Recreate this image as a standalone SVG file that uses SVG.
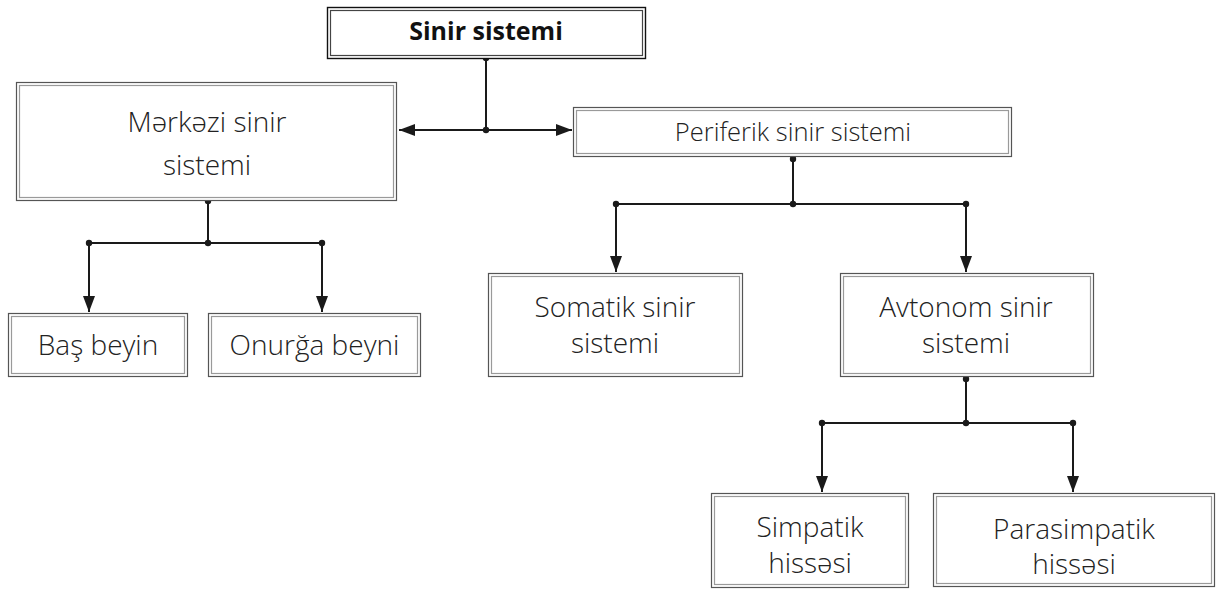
<svg xmlns="http://www.w3.org/2000/svg" width="1217" height="590" viewBox="0 0 1217 590">
<style>
.o{fill:#fff;stroke:#555;stroke-width:1.2}
.i{fill:none;stroke:#9a9a9a;stroke-width:1.2}
.ot{fill:#fff;stroke:#111;stroke-width:1.4}
.it{fill:none;stroke:#444;stroke-width:1.2}
text{font-family:"Open Sans","Noto Sans","DejaVu Sans",sans-serif;font-weight:300;fill:#222;text-anchor:middle;font-size:28px}
.b{font-weight:700;font-size:25px;fill:#111}
.c line,.c path{stroke:#1a1a1a;stroke-width:2;fill:none}
.c circle{fill:#1a1a1a}
</style>
<defs>
<marker id="ah" markerUnits="userSpaceOnUse" markerWidth="17" markerHeight="13" refX="16" refY="6" orient="auto">
<path d="M0,0 L16,6 L0,12 z" fill="#1a1a1a"/>
</marker>
</defs>
<g id="connectors" class="c">
<line x1="486" y1="58" x2="486" y2="130"/>
<line x1="486" y1="130" x2="399" y2="130" marker-end="url(#ah)"/>
<line x1="486" y1="130" x2="572" y2="130" marker-end="url(#ah)"/>
<circle cx="486" cy="58" r="3.2"/><circle cx="486" cy="130" r="3.2"/>
<line x1="208" y1="201" x2="208" y2="243"/>
<line x1="89" y1="243" x2="322" y2="243"/>
<line x1="89" y1="243" x2="89" y2="312" marker-end="url(#ah)"/>
<line x1="322" y1="243" x2="322" y2="312" marker-end="url(#ah)"/>
<circle cx="208" cy="201" r="3.2"/><circle cx="208" cy="243" r="3.2"/><circle cx="89" cy="243" r="3.2"/><circle cx="322" cy="243" r="3.2"/>
<line x1="793" y1="159" x2="793" y2="204"/>
<line x1="616" y1="204" x2="966" y2="204"/>
<line x1="616" y1="204" x2="616" y2="272" marker-end="url(#ah)"/>
<line x1="966" y1="204" x2="966" y2="272" marker-end="url(#ah)"/>
<circle cx="793" cy="159" r="3.2"/><circle cx="793" cy="204" r="3.2"/><circle cx="616" cy="204" r="3.2"/><circle cx="966" cy="204" r="3.2"/>
<line x1="966" y1="379" x2="966" y2="423"/>
<line x1="822" y1="423" x2="1073" y2="423"/>
<line x1="822" y1="423" x2="822" y2="492" marker-end="url(#ah)"/>
<line x1="1073" y1="423" x2="1073" y2="492" marker-end="url(#ah)"/>
<circle cx="966" cy="379" r="3.2"/><circle cx="966" cy="423" r="3.2"/><circle cx="822" cy="423" r="3.2"/><circle cx="1073" cy="423" r="3.2"/>
</g>
<g id="sinir-sistemi">
<rect class="ot" x="327.5" y="7.5" width="318" height="51"/>
<rect class="it" x="330.5" y="10.5" width="312" height="45"/>
<text class="b" x="486" y="40">Sinir sistemi</text>
</g>
<g id="merkezi">
<rect class="o" x="16.5" y="82.5" width="380" height="118"/>
<rect class="i" x="19.5" y="85.5" width="374" height="112"/>
<text x="207" y="132">Mərkəzi sinir</text>
<text x="207" y="175">sistemi</text>
</g>
<g id="periferik">
<rect class="o" x="573.5" y="107.5" width="438" height="49"/>
<rect class="i" x="576.5" y="110.5" width="432" height="43"/>
<text x="793" y="141" style="font-size:25.5px">Periferik sinir sistemi</text>
</g>
<g id="bas-beyin">
<rect class="o" x="8.5" y="313.5" width="179" height="63"/>
<rect class="i" x="11.5" y="316.5" width="173" height="57"/>
<text x="98" y="355">Baş beyin</text>
</g>
<g id="onurga-beyni">
<rect class="o" x="208.5" y="313.5" width="212" height="63"/>
<rect class="i" x="211.5" y="316.5" width="206" height="57"/>
<text x="314.5" y="355">Onurğa beyni</text>
</g>
<g id="somatik">
<rect class="o" x="488.5" y="273.5" width="254" height="103"/>
<rect class="i" x="491.5" y="276.5" width="248" height="97"/>
<text x="615" y="317">Somatik sinir</text>
<text x="615" y="353">sistemi</text>
</g>
<g id="avtonom">
<rect class="o" x="840.5" y="273.5" width="253" height="103"/>
<rect class="i" x="843.5" y="276.5" width="247" height="97"/>
<text x="966" y="317">Avtonom sinir</text>
<text x="966" y="353">sistemi</text>
</g>
<g id="simpatik">
<rect class="o" x="711.5" y="493.5" width="197" height="94"/>
<rect class="i" x="714.5" y="496.5" width="191" height="88"/>
<text x="810" y="537">Simpatik</text>
<text x="810" y="573">hissəsi</text>
</g>
<g id="parasimpatik">
<rect class="o" x="933.5" y="493.5" width="281" height="93"/>
<rect class="i" x="936.5" y="496.5" width="275" height="87"/>
<text x="1074" y="539">Parasimpatik</text>
<text x="1074" y="574">hissəsi</text>
</g>
</svg>
